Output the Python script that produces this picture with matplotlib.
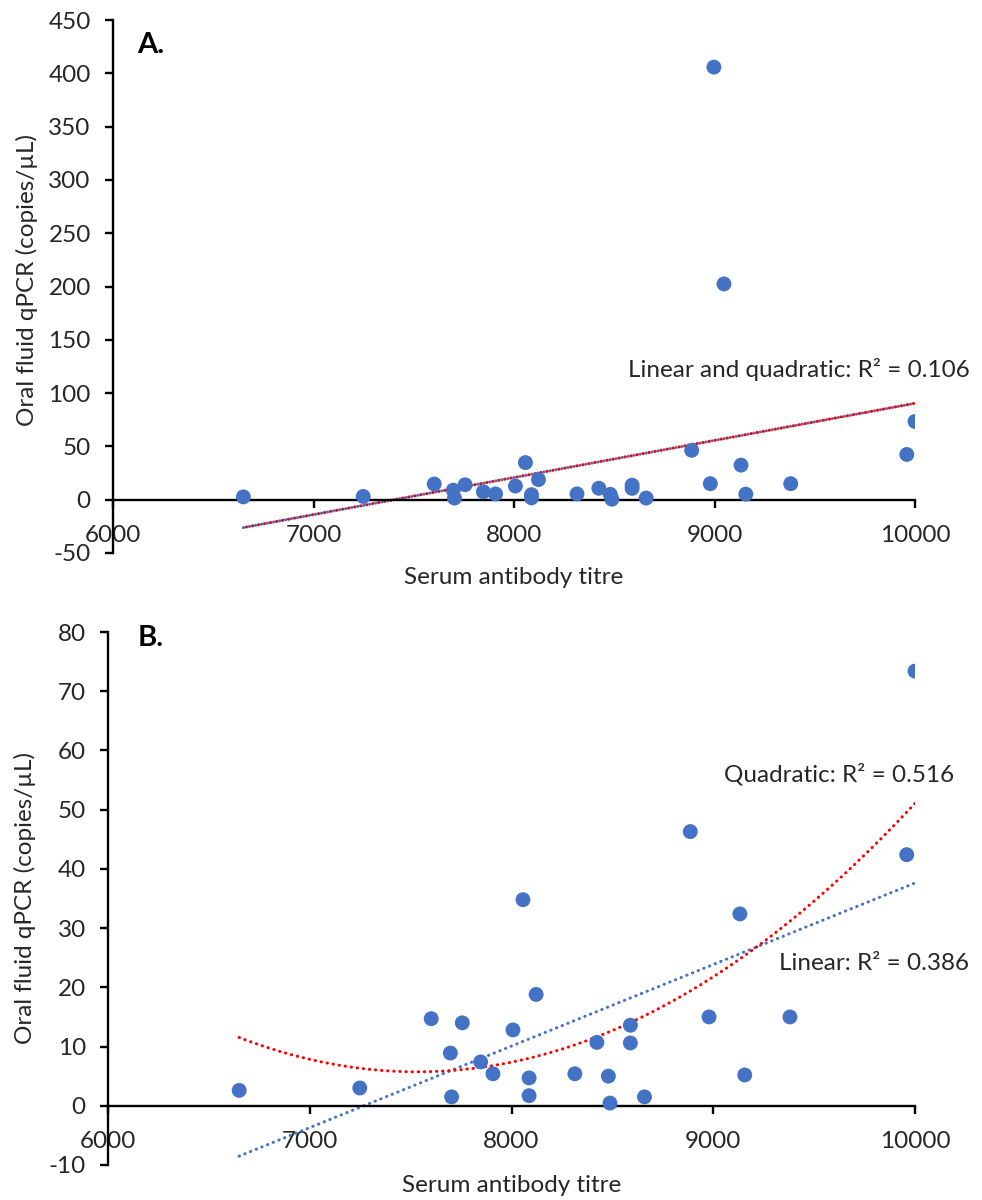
import numpy as np
import matplotlib
matplotlib.use("Agg")
import matplotlib.pyplot as plt

plt.rcParams["font.family"] = ["Lato", "DejaVu Sans"]

# serum antibody titre vs oral fluid qPCR (copies/uL)
titre = [6650, 7248, 7602, 7756, 7697, 7847, 7908, 7703, 8057, 9132, 8122,
         8007, 8979, 9380, 8589, 8589, 8423, 8087, 8314, 8480, 9156, 8087,
         8488, 8659, 9959, 10000, 8886]
qpcr = [2.6, 3.0, 14.7, 14.0, 8.9, 7.4, 5.4, 1.5, 34.8, 32.4, 18.8,
        12.8, 15.0, 15.0, 13.6, 10.6, 10.7, 4.7, 5.4, 5.0, 5.2, 1.7,
        0.45, 1.5, 42.4, 73.4, 46.3]
# two outliers only shown in panel A
out_titre = [8997, 9047]
out_qpcr = [405.8, 202.4]

blue = "#4472C4"
red = "#FF0000"
txt = "#262626"
fs = 17.5
dots = (0, (0.1, 1.9))

xa = np.array(titre + out_titre, dtype=float)
ya = np.array(qpcr + out_qpcr, dtype=float)
xb = np.array(titre, dtype=float)
yb = np.array(qpcr, dtype=float)


def style(ax, ymin, ymax, ystep):
    ax.set_xlim(6000, 10000)
    ax.set_ylim(ymin, ymax)
    ax.set_xticks(np.arange(6000, 10001, 1000))
    ax.set_yticks(np.arange(ymin, ymax + 1, ystep))
    ax.spines["top"].set_visible(False)
    ax.spines["right"].set_visible(False)
    ax.spines["bottom"].set_position(("data", 0))
    for s in ("left", "bottom"):
        ax.spines[s].set_linewidth(1.7)
    ax.tick_params(axis="both", direction="out", length=6, width=1.7,
                   labelsize=fs, labelcolor=txt)
    ax.tick_params(axis="y", pad=10)
    ax.tick_params(axis="x", pad=12)
    ax.yaxis.set_major_formatter(matplotlib.ticker.FuncFormatter(lambda v, p: "%d" % v))


fig = plt.figure(figsize=(9.82, 12), dpi=100)
xs = np.linspace(min(titre), max(titre), 200)

# ---- panel A
axA = fig.add_axes([0.1151, 0.5392, 0.8167, 0.4441])
style(axA, -50, 450, 50)
lin = np.polyfit(xa, ya, 1)
quad = np.polyfit(xa, ya, 2)
axA.plot(xs, np.polyval(lin, xs), color=blue, lw=2.2, ls=dots,
         dash_capstyle="round", zorder=2)
axA.plot(xs, np.polyval(quad, xs), color=red, lw=2.2, ls=(1, (0.1, 1.9)),
         dash_capstyle="round", zorder=2)
axA.scatter(xa, ya, s=115, color=blue, edgecolors="none", zorder=3)
axA.text(8569, 122, "Linear and quadratic: R² = 0.106", fontsize=fs,
         va="center", ha="left", color=txt)
axA.text(0.03, 0.977, "A.", transform=axA.transAxes, fontsize=21,
         fontweight="bold", va="top", ha="left")
axA.set_ylabel("Oral fluid qPCR (copies/µL)", fontsize=fs, color=txt)
axA.yaxis.set_label_coords(-0.094, 0.512)
axA.set_xlabel("Serum antibody titre", fontsize=fs, color=txt)
axA.xaxis.set_label_coords(0.5, -0.026)

# ---- panel B
axB = fig.add_axes([0.11, 0.0292, 0.8218, 0.4441])
style(axB, -10, 80, 10)
lin_b = np.polyfit(xb, yb, 1)
quad_b = np.polyfit(xb, yb, 2)
axB.plot(xs, np.polyval(lin_b, xs), color=blue, lw=2.2, ls=dots,
         dash_capstyle="round", zorder=2)
axB.plot(xs, np.polyval(quad_b, xs), color=red, lw=2.2, ls=dots,
         dash_capstyle="round", zorder=2)
axB.scatter(xb, yb, s=115, color=blue, edgecolors="none", zorder=3)
axB.text(9054, 55.9, "Quadratic: R² = 0.516", fontsize=fs, va="center",
         ha="left", color=txt)
axB.text(9327, 24.1, "Linear: R² = 0.386", fontsize=fs, va="center",
         ha="left", color=txt)
axB.text(0.037, 1.013, "B.", transform=axB.transAxes, fontsize=21,
         fontweight="bold", va="top", ha="left")
axB.set_ylabel("Oral fluid qPCR (copies/µL)", fontsize=fs, color=txt)
axB.yaxis.set_label_coords(-0.089, 0.5)
axB.set_xlabel("Serum antibody titre", fontsize=fs, color=txt)
axB.xaxis.set_label_coords(0.5, -0.018)

fig.savefig("out.png", dpi=100)
